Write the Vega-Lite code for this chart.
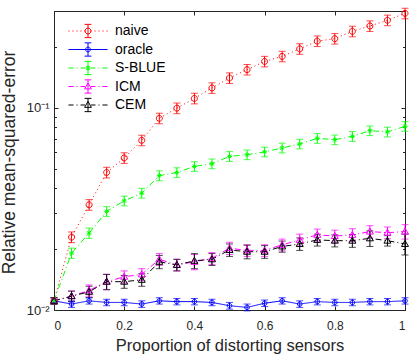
{
  "$schema": "https://vega.github.io/schema/vega-lite/v6.json",
  "width": 351,
  "height": 299,
  "autosize": {"type": "none"},
  "padding": {"left": 54, "top": 11, "right": 10, "bottom": 46},
  "config": {
    "font": "Liberation Sans",
    "view": {"stroke": "#262626", "strokeWidth": 1},
    "axis": {"grid": false, "domain": false, "tickColor": "#262626", "labelColor": "#262626", "titleColor": "#262626", "labelFont": "Liberation Sans", "titleFont": "Liberation Sans", "titleFontWeight": "normal", "tickWidth": 1}
  },
  "datasets": {
    "d": [
      {"s": "naive", "x": 0, "y": 0.0111, "e": 0.0004},
      {"s": "naive", "x": 0.05, "y": 0.0229, "e": 0.0014},
      {"s": "naive", "x": 0.1, "y": 0.0331, "e": 0.002},
      {"s": "naive", "x": 0.15, "y": 0.0478, "e": 0.0029},
      {"s": "naive", "x": 0.2, "y": 0.0564, "e": 0.0034},
      {"s": "naive", "x": 0.25, "y": 0.0689, "e": 0.0041},
      {"s": "naive", "x": 0.3, "y": 0.0885, "e": 0.0053},
      {"s": "naive", "x": 0.35, "y": 0.0993, "e": 0.006},
      {"s": "naive", "x": 0.4, "y": 0.111, "e": 0.0067},
      {"s": "naive", "x": 0.45, "y": 0.125, "e": 0.0075},
      {"s": "naive", "x": 0.5, "y": 0.14, "e": 0.0084},
      {"s": "naive", "x": 0.55, "y": 0.154, "e": 0.0092},
      {"s": "naive", "x": 0.6, "y": 0.169, "e": 0.0101},
      {"s": "naive", "x": 0.65, "y": 0.179, "e": 0.0107},
      {"s": "naive", "x": 0.7, "y": 0.195, "e": 0.0117},
      {"s": "naive", "x": 0.75, "y": 0.213, "e": 0.0128},
      {"s": "naive", "x": 0.8, "y": 0.219, "e": 0.0131},
      {"s": "naive", "x": 0.85, "y": 0.238, "e": 0.0143},
      {"s": "naive", "x": 0.9, "y": 0.253, "e": 0.0152},
      {"s": "naive", "x": 0.95, "y": 0.27, "e": 0.0162},
      {"s": "naive", "x": 1, "y": 0.292, "e": 0.0175},
      {"s": "oracle", "x": 0, "y": 0.0111, "e": 0.0004},
      {"s": "oracle", "x": 0.05, "y": 0.0107, "e": 0.0004},
      {"s": "oracle", "x": 0.1, "y": 0.0111, "e": 0.0004},
      {"s": "oracle", "x": 0.15, "y": 0.0109, "e": 0.0004},
      {"s": "oracle", "x": 0.2, "y": 0.0109, "e": 0.0004},
      {"s": "oracle", "x": 0.25, "y": 0.0107, "e": 0.0004},
      {"s": "oracle", "x": 0.3, "y": 0.0111, "e": 0.0004},
      {"s": "oracle", "x": 0.35, "y": 0.011, "e": 0.0004},
      {"s": "oracle", "x": 0.4, "y": 0.011, "e": 0.0004},
      {"s": "oracle", "x": 0.45, "y": 0.0109, "e": 0.0004},
      {"s": "oracle", "x": 0.5, "y": 0.0105, "e": 0.0004},
      {"s": "oracle", "x": 0.55, "y": 0.0103, "e": 0.0004},
      {"s": "oracle", "x": 0.6, "y": 0.0108, "e": 0.0004},
      {"s": "oracle", "x": 0.65, "y": 0.0111, "e": 0.0004},
      {"s": "oracle", "x": 0.7, "y": 0.0107, "e": 0.0004},
      {"s": "oracle", "x": 0.75, "y": 0.011, "e": 0.0004},
      {"s": "oracle", "x": 0.8, "y": 0.0109, "e": 0.0004},
      {"s": "oracle", "x": 0.85, "y": 0.0109, "e": 0.0004},
      {"s": "oracle", "x": 0.9, "y": 0.011, "e": 0.0004},
      {"s": "oracle", "x": 0.95, "y": 0.011, "e": 0.0004},
      {"s": "oracle", "x": 1, "y": 0.0111, "e": 0.0004},
      {"s": "S-BLUE", "x": 0, "y": 0.0111, "e": 0.0004},
      {"s": "S-BLUE", "x": 0.05, "y": 0.0191, "e": 0.0011},
      {"s": "S-BLUE", "x": 0.1, "y": 0.024, "e": 0.0014},
      {"s": "S-BLUE", "x": 0.15, "y": 0.0307, "e": 0.0017},
      {"s": "S-BLUE", "x": 0.2, "y": 0.0346, "e": 0.0019},
      {"s": "S-BLUE", "x": 0.25, "y": 0.0378, "e": 0.0021},
      {"s": "S-BLUE", "x": 0.3, "y": 0.0461, "e": 0.0026},
      {"s": "S-BLUE", "x": 0.35, "y": 0.0478, "e": 0.0026},
      {"s": "S-BLUE", "x": 0.4, "y": 0.0512, "e": 0.0028},
      {"s": "S-BLUE", "x": 0.45, "y": 0.0528, "e": 0.0029},
      {"s": "S-BLUE", "x": 0.5, "y": 0.0574, "e": 0.0032},
      {"s": "S-BLUE", "x": 0.55, "y": 0.0585, "e": 0.0032},
      {"s": "S-BLUE", "x": 0.6, "y": 0.0604, "e": 0.0033},
      {"s": "S-BLUE", "x": 0.65, "y": 0.0632, "e": 0.0035},
      {"s": "S-BLUE", "x": 0.7, "y": 0.0661, "e": 0.0036},
      {"s": "S-BLUE", "x": 0.75, "y": 0.0705, "e": 0.0039},
      {"s": "S-BLUE", "x": 0.8, "y": 0.0694, "e": 0.0038},
      {"s": "S-BLUE", "x": 0.85, "y": 0.0721, "e": 0.004},
      {"s": "S-BLUE", "x": 0.9, "y": 0.0769, "e": 0.0042},
      {"s": "S-BLUE", "x": 0.95, "y": 0.0758, "e": 0.0042},
      {"s": "S-BLUE", "x": 1, "y": 0.0808, "e": 0.0044},
      {"s": "ICM", "x": 0, "y": 0.0111, "e": 0.0004},
      {"s": "ICM", "x": 0.05, "y": 0.0117, "e": 0.0007},
      {"s": "ICM", "x": 0.1, "y": 0.0125, "e": 0.0008},
      {"s": "ICM", "x": 0.15, "y": 0.0138, "e": 0.0012},
      {"s": "ICM", "x": 0.2, "y": 0.0146, "e": 0.001},
      {"s": "ICM", "x": 0.25, "y": 0.015, "e": 0.001},
      {"s": "ICM", "x": 0.3, "y": 0.0178, "e": 0.0012},
      {"s": "ICM", "x": 0.35, "y": 0.0167, "e": 0.0011},
      {"s": "ICM", "x": 0.4, "y": 0.0173, "e": 0.0015},
      {"s": "ICM", "x": 0.45, "y": 0.018, "e": 0.0012},
      {"s": "ICM", "x": 0.5, "y": 0.0202, "e": 0.0014},
      {"s": "ICM", "x": 0.55, "y": 0.0197, "e": 0.0013},
      {"s": "ICM", "x": 0.6, "y": 0.0197, "e": 0.0013},
      {"s": "ICM", "x": 0.65, "y": 0.021, "e": 0.0014},
      {"s": "ICM", "x": 0.7, "y": 0.0222, "e": 0.0015},
      {"s": "ICM", "x": 0.75, "y": 0.0235, "e": 0.0016},
      {"s": "ICM", "x": 0.8, "y": 0.0232, "e": 0.0016},
      {"s": "ICM", "x": 0.85, "y": 0.0235, "e": 0.0017},
      {"s": "ICM", "x": 0.9, "y": 0.0244, "e": 0.0017},
      {"s": "ICM", "x": 0.95, "y": 0.0241, "e": 0.0016},
      {"s": "ICM", "x": 1, "y": 0.0244, "e": 0.002},
      {"s": "CEM", "x": 0, "y": 0.0111, "e": 0.0004},
      {"s": "CEM", "x": 0.05, "y": 0.0117, "e": 0.0007},
      {"s": "CEM", "x": 0.1, "y": 0.0123, "e": 0.0008},
      {"s": "CEM", "x": 0.15, "y": 0.0138, "e": 0.0012},
      {"s": "CEM", "x": 0.2, "y": 0.0138, "e": 0.001},
      {"s": "CEM", "x": 0.25, "y": 0.0141, "e": 0.001},
      {"s": "CEM", "x": 0.3, "y": 0.0173, "e": 0.0013},
      {"s": "CEM", "x": 0.35, "y": 0.0167, "e": 0.0011},
      {"s": "CEM", "x": 0.4, "y": 0.0175, "e": 0.0015},
      {"s": "CEM", "x": 0.45, "y": 0.0178, "e": 0.0012},
      {"s": "CEM", "x": 0.5, "y": 0.0198, "e": 0.0014},
      {"s": "CEM", "x": 0.55, "y": 0.0194, "e": 0.0015},
      {"s": "CEM", "x": 0.6, "y": 0.0194, "e": 0.0014},
      {"s": "CEM", "x": 0.65, "y": 0.0206, "e": 0.0013},
      {"s": "CEM", "x": 0.7, "y": 0.0212, "e": 0.0015},
      {"s": "CEM", "x": 0.75, "y": 0.0222, "e": 0.0015},
      {"s": "CEM", "x": 0.8, "y": 0.022, "e": 0.0015},
      {"s": "CEM", "x": 0.85, "y": 0.022, "e": 0.0016},
      {"s": "CEM", "x": 0.9, "y": 0.0226, "e": 0.002},
      {"s": "CEM", "x": 0.95, "y": 0.022, "e": 0.0013},
      {"s": "CEM", "x": 1, "y": 0.0212, "e": 0.0025}
    ]
  },
  "data": {"name": "d"},
  "layer": [
    {
      "mark": {"type": "errorbar", "ticks": {"size": 7, "thickness": 1}, "rule": {"strokeWidth": 1}},
      "encoding": {
        "x": {"field": "x", "type": "quantitative", "scale": {"domain": [0, 1], "nice": false},
          "axis": {"orient": "bottom", "values": [0, 0.2, 0.4, 0.6, 0.8, 1], "format": "~g", "tickSize": -4, "labelPadding": 14, "labelFontSize": 12, "title": "Proportion of distorting sensors", "titleFontSize": 16.5, "titleY": 40, "titleBaseline": "alphabetic"}},
        "y": {"field": "y", "type": "quantitative", "scale": {"type": "log", "domain": [0.01, 0.3], "nice": false},
          "axis": {"orient": "left", "values": [0.01, 0.1], "labelExpr": "datum.value < 0.05 ? '10\u207b\u00b2' : '10\u207b\u00b9'", "tickSize": -4, "labelPadding": 9, "labelFontSize": 13, "title": "Relative mean-squared-error", "titleFontSize": 17.5, "titleX": -40, "titleY": 151, "titleBaseline": "alphabetic", "titleAngle": -90}},
        "yError": {"field": "e"},
        "color": {"field": "s", "type": "nominal", "scale": {"domain": ["naive", "oracle", "S-BLUE", "ICM", "CEM"], "range": ["#ff0000", "#0000ff", "#00ff00", "#ff00ff", "#000000"]}, "legend": null}
      }
    },
    {
      "mark": {"type": "line", "strokeWidth": 1},
      "encoding": {
        "x": {"field": "x", "type": "quantitative", "scale": {"domain": [0, 1], "nice": false},
          "axis": {"orient": "top", "values": [0, 0.2, 0.4, 0.6, 0.8, 1], "labels": false, "tickSize": -4, "title": null}},
        "y": {"field": "y", "type": "quantitative", "scale": {"type": "log", "domain": [0.01, 0.3], "nice": false},
          "axis": {"orient": "right", "values": [0.01, 0.1], "labels": false, "tickSize": -4, "title": null}},
        "color": {"field": "s", "type": "nominal", "scale": {"domain": ["naive", "oracle", "S-BLUE", "ICM", "CEM"], "range": ["#ff0000", "#0000ff", "#00ff00", "#ff00ff", "#000000"]}, "legend": null},
        "strokeDash": {"field": "s", "type": "nominal", "scale": {"domain": ["naive", "oracle", "S-BLUE", "ICM", "CEM"], "range": [[1, 3], [1, 0], [6, 3, 1, 3], [6, 3, 1, 3], [6, 3, 1, 3]]}, "legend": null}
      }
    },
    {
      "mark": {"type": "point", "filled": false, "size": 100, "strokeWidth": 1, "opacity": 1},
      "encoding": {
        "x": {"field": "x", "type": "quantitative", "scale": {"domain": [0, 1], "nice": false}, "axis": null},
        "y": {"field": "y", "type": "quantitative", "scale": {"type": "log", "domain": [0.01, 0.3], "nice": false},
          "axis": {"orient": "left", "values": [0.02, 0.03, 0.04, 0.05, 0.06, 0.07, 0.08, 0.09, 0.2, 0.3], "labels": false, "tickSize": -2.5, "title": null}},
        "color": {"field": "s", "type": "nominal", "scale": {"domain": ["naive", "oracle", "S-BLUE", "ICM", "CEM"], "range": ["#ff0000", "#0000ff", "#00ff00", "#ff00ff", "#000000"]}, "legend": null},
        "shape": {"field": "s", "type": "nominal", "legend": null, "scale": {"domain": ["naive", "oracle", "S-BLUE", "ICM", "CEM"], "range": [
          "M0.6,0A0.6,0.6,0,1,1,-0.6,0A0.6,0.6,0,1,1,0.6,0Z",
          "M0.46,0A0.46,0.46,0,1,1,-0.46,0A0.46,0.46,0,1,1,0.46,0Z",
          "M-0.5,0L0.5,0M0,-0.5L0,0.5M-0.35,-0.35L0.35,0.35M-0.35,0.35L0.35,-0.35",
          "M0,-0.7L0.7,0.5L-0.7,0.5Z",
          "M0,-0.7L0.7,0.5L-0.7,0.5Z"]}}
      }
    },
    {
      "transform": [{"filter": "false"}],
      "mark": {"type": "point", "filled": false, "strokeWidth": 1, "opacity": 1},
      "encoding": {
        "x": {"field": "x", "type": "quantitative", "scale": {"domain": [0, 1], "nice": false}, "axis": null},
        "y": {"field": "y", "type": "quantitative", "scale": {"type": "log", "domain": [0.01, 0.3], "nice": false},
          "axis": {"orient": "right", "values": [0.02, 0.03, 0.04, 0.05, 0.06, 0.07, 0.08, 0.09, 0.2, 0.3], "labels": false, "tickSize": -2.5, "title": null}},
        "color": {"field": "s", "type": "nominal", "scale": {"domain": ["naive", "oracle", "S-BLUE", "ICM", "CEM"], "range": ["#ff0000", "#0000ff", "#00ff00", "#ff00ff", "#000000"]},
          "legend": {"orient": "none", "legendX": 25, "legendY": 11, "title": null, "symbolSize": 289, "symbolStrokeWidth": 1, "labelFontSize": 14, "labelOffset": 18, "rowPadding": 0.5, "padding": 0, "labelColor": "#000000", "labelFont": "Liberation Sans"}},
        "shape": {"field": "s", "type": "nominal", "scale": {"domain": ["naive", "oracle", "S-BLUE", "ICM", "CEM"], "range": [
          "M-2.3,0L-2.17,0M-1.83,0L-1.7,0M-1.36,0L-1.23,0M-0.89,0L-0.76,0M-0.42,0L-0.29,0M0.29,0L0.42,0M0.76,0L0.89,0M1.23,0L1.36,0M1.7,0L1.83,0M2.17,0L2.3,0M0,-0.78L0,0.78M-0.4,-0.78L0.4,-0.78M-0.4,0.78L0.4,0.78M0.35,0A0.35,0.35,0,1,1,-0.35,0A0.35,0.35,0,1,1,0.35,0Z",
          "M-2.3,0L2.3,0M0,-0.78L0,0.78M-0.4,-0.78L0.4,-0.78M-0.4,0.78L0.4,0.78M0.28,0A0.28,0.28,0,1,1,-0.28,0A0.28,0.28,0,1,1,0.28,0Z",
          "M-2.3,0L-1.7,0M-1.35,0L-1.23,0M-0.88,0L-0.35,0M0.35,0L0.88,0M1.23,0L1.35,0M1.7,0L2.3,0M0,-0.78L0,0.78M-0.4,-0.78L0.4,-0.78M-0.4,0.78L0.4,0.78M-0.3,0L0.3,0M0,-0.3L0,0.3M-0.21,-0.21L0.21,0.21M-0.21,0.21L0.21,-0.21",
          "M-2.3,0L-1.7,0M-1.35,0L-1.23,0M-0.88,0L-0.35,0M0.35,0L0.88,0M1.23,0L1.35,0M1.7,0L2.3,0M0,-0.78L0,0.78M-0.4,-0.78L0.4,-0.78M-0.4,0.78L0.4,0.78M0,-0.42L0.4,0.28L-0.4,0.28Z",
          "M-2.3,0L-1.7,0M-1.35,0L-1.23,0M-0.88,0L-0.35,0M0.35,0L0.88,0M1.23,0L1.35,0M1.7,0L2.3,0M0,-0.78L0,0.78M-0.4,-0.78L0.4,-0.78M-0.4,0.78L0.4,0.78M0,-0.42L0.4,0.28L-0.4,0.28Z"]},
          "legend": {"orient": "none", "legendX": 25, "legendY": 11, "title": null, "symbolSize": 289, "symbolStrokeWidth": 1, "labelFontSize": 14, "labelOffset": 18, "rowPadding": 0.5, "padding": 0, "labelColor": "#000000", "labelFont": "Liberation Sans"}}
      }
    }
  ],
  "resolve": {"scale": {"shape": "independent", "color": "independent"}, "axis": {"x": "independent", "y": "independent"}}
}
